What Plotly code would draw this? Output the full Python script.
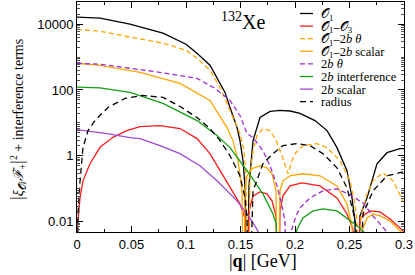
import plotly.graph_objects as go

Z = 1e-6  # exact zeros of the squared form factors (fall below the axis)

# ---- data ----
q_O1 = [0, 0.0211, 0.0486, 0.0789, 0.1000, 0.1101, 0.1220, 0.1284, 0.1358, 0.1404, 0.1468, 0.1495, 0.1523, 0.1541, 0.1555,
        0.1578, 0.1596, 0.1615, 0.1679, 0.1771, 0.1862, 0.1954, 0.2046, 0.2183, 0.2294, 0.2385, 0.2477, 0.2523, 0.2550, 0.2569,
        0.2596, 0.2661, 0.2752, 0.2844, 0.2963, 0.3000]
v_O1 = [16340, 15240, 10000, 5320, 2455, 1306, 566, 242, 84.5, 29.5, 7.24, 2.91, 0.714, 0.123, Z,
        0.123, 0.714, 2.91, 14.6, 22.5, 24.0, 23.0, 19.4, 11.8, 5.86, 1.78, 0.354, 0.0532, 0.0106, Z,
        0.015, 0.0532, 0.578, 1.25, 1.66, 1.66]

q_O1O3 = [0, 0.0003, 0.0028, 0.0055, 0.0119, 0.0211, 0.0330, 0.0456, 0.0578, 0.0697, 0.0761, 0.0945, 0.1101, 0.1220,
          0.1312, 0.1404, 0.1495, 0.1541, 0.1560,
          0.1578, 0.1615, 0.1679, 0.1743, 0.1789, 0.1826, 0.1849,
          0.1862, 0.1890, 0.1954, 0.2064, 0.2229, 0.2385, 0.2477, 0.2532, 0.2550,
          0.2596, 0.2688, 0.2780, 0.2872, 0.2963, 0.3000]
v_O1O3 = [Z, 0.0066, 0.0543, 0.175, 0.578, 1.82, 3.66, 5.86, 7.77, 8.33, 8.33, 6.75, 3.35, 1.17,
          0.354, 0.107, 0.0349, 0.0131, Z,
          0.0213, 0.0612, 0.081, 0.0705, 0.0431, 0.015, Z,
          0.0213, 0.0612, 0.123, 0.152, 0.123, 0.0532, 0.0173, 0.006, Z,
          0.0131, 0.0213, 0.0199, 0.0122, 0.0065, 0.0049]

q_O1_2b_theta = [0, 0.0211, 0.0486, 0.0789, 0.1000, 0.1101, 0.1220, 0.1312, 0.1431, 0.1495, 0.1532, 0.1550, 0.1569,
                 0.1587, 0.1615, 0.1651, 0.1706, 0.1771, 0.1826, 0.1881, 0.1936, 0.1972, 0.2000, 0.2073, 0.2202,
                 0.2294, 0.2413, 0.2505, 0.2550, 0.2569, 0.2583,
                 0.2606, 0.2661, 0.2716, 0.2807, 0.2899, 0.2991, 0.3000]
v_O1_2b_theta = [6890, 6120, 4020, 2640, 1611, 918, 396, 120, 14.6, 4.75, 1.44, 0.249, Z,
                 0.249, 1.44, 4.13, 6.75, 5.86, 2.91, 1.01, 0.287, 0.714, 1.17, 2.05, 2.36,
                 1.78, 0.714, 0.175, 0.0349, 0.0106, Z,
                 0.015, 0.0705, 0.175, 0.308, 0.175, 0.0431, 0.040]

q_O1_2b_scalar = [0, 0.0211, 0.0578, 0.0945, 0.1220, 0.1376, 0.1431, 0.1477, 0.1514, 0.1532,
                  0.1541, 0.1560, 0.1606, 0.1679, 0.1743, 0.1789, 0.1826, 0.1839,
                  0.1862, 0.1890, 0.1954, 0.2073, 0.2229, 0.2385, 0.2477, 0.2523, 0.2541,
                  0.2578, 0.2615, 0.2661, 0.2716, 0.2780, 0.2872, 0.2963, 0.3000]
v_O1_2b_scalar = [647, 562, 344, 159, 48.2, 7.24, 2.91, 0.714, 0.0869, Z,
                  0.0869, 0.249, 0.407, 0.502, 0.436, 0.287, 0.0869, Z,
                  0.0869, 0.175, 0.249, 0.287, 0.249, 0.123, 0.0349, 0.0074, Z,
                  0.002, 0.0052, 0.0131, 0.0173, 0.015, 0.0106, 0.0052, 0.004]

q_2b_theta = [0, 0.0211, 0.0486, 0.0761, 0.1101, 0.1266, 0.1404, 0.1495, 0.1560, 0.1615, 0.1706, 0.1771, 0.1835,
              0.1881, 0.1908, 0.1936,
              0.1972, 0.2009, 0.2046, 0.2138, 0.2257, 0.2385, 0.2505, 0.2624, 0.2716, 0.2780, 0.2844, 0.2862]
v_2b_theta = [647, 603, 456, 344, 226, 112, 48.2, 16.8, 4.75, 3.59, 1.44, 0.502, 0.123,
              0.0303, 0.0106, Z,
              0.006, 0.015, 0.0264, 0.0532, 0.0869, 0.1, 0.0657, 0.0374, 0.015, 0.0086, 0.0049, Z]

q_2b_interf = [0, 0.0211, 0.0486, 0.0789, 0.1101, 0.1284, 0.1404, 0.1560, 0.1706, 0.1798, 0.1826, 0.1900,
               0.2018, 0.2073, 0.2165, 0.2257, 0.2385, 0.2505, 0.2596, 0.2642, 0.2700]
v_2b_interf = [122, 116, 84.5, 39.0, 11.8, 4.13, 1.78, 0.354, 0.0705, 0.0173, 0.0092, Z,
               0.006, 0.0131, 0.0213, 0.0246, 0.0213, 0.0106, 0.0065, 0.0045, Z]

q_2b_scalar = [0, 0.0275, 0.0486, 0.0578, 0.0761, 0.0945, 0.1128, 0.1284, 0.1468, 0.1587, 0.1661, 0.1697]
v_2b_scalar = [6.29, 4.75, 3.6, 3.35, 2.05, 1.17, 0.502, 0.175, 0.0431, 0.0131, 0.0052, Z]

q_radius = [0, 0.0003, 0.0009, 0.0028, 0.0055, 0.0101, 0.0165, 0.0284, 0.0440, 0.0596, 0.0789, 0.0945, 0.1101,
            0.1220, 0.1312, 0.1404, 0.1495, 0.1541, 0.1560, 0.1569,
            0.1615, 0.1706, 0.1798, 0.1890, 0.2018, 0.2138, 0.2257, 0.2385, 0.2477, 0.2532, 0.2560, 0.2578,
            0.2624, 0.2716, 0.2844, 0.2963, 0.3000]
v_radius = [Z, 0.0066, 0.0173, 0.175, 1.78, 5.86, 11.8, 29.5, 55.5, 68.4, 59.5, 31.6, 14.6,
            6.75, 2.91, 1.01, 0.249, 0.0532, 0.0131, Z,
            0.0869, 0.578, 1.17, 2.05, 2.36, 2.05, 1.17, 0.436, 0.107, 0.0213, 0.0074, Z,
            0.0173, 0.0869, 0.249, 0.308, 0.33]

x_ticks = [0, 0.05, 0.1, 0.15, 0.2, 0.25, 0.3]
x_tick_labels = ["0", "0.05", "0.1", "0.15", "0.2", "0.25", "0.3"]
y_ticks = [0.01, 1, 100, 10000]
y_tick_labels = ["0.01", "1", "100", "10000"]

O = "𝒪"
names = [f"{O}<sub>1</sub>", f"{O}<sub>1</sub>–{O}<sub>3</sub>", f"{O}<sub>1</sub>–2<i>b</i> <i>θ</i>",
         f"{O}<sub>1</sub>–2<i>b</i> scalar", "2<i>b</i> <i>θ</i>", "2<i>b</i> interference",
         "2<i>b</i> scalar", "radius"]

series = [
    (q_O1, v_O1, "black", "solid"),
    (q_O1O3, v_O1O3, "#ff1a1a", "solid"),
    (q_O1_2b_theta, v_O1_2b_theta, "#ffa500", "5px,3px"),
    (q_O1_2b_scalar, v_O1_2b_scalar, "#ffa500", "solid"),
    (q_2b_theta, v_2b_theta, "#9a2fd6", "5px,3px"),
    (q_2b_interf, v_2b_interf, "#15a015", "solid"),
    (q_2b_scalar, v_2b_scalar, "#a048d8", "solid"),
    (q_radius, v_radius, "black", "6px,4px"),
]

fig = go.Figure()
for (qq, vv, col, dash), nm in zip(series, names):
    fig.add_trace(go.Scatter(x=qq, y=vv, mode="lines", name=nm, showlegend=False,
                             line=dict(color=col, width=1.3, dash=dash)))

# plot-area geometry (pixels) for the hand-built legend
W, H = 415, 275
L, R, T, B = 77, 11, 2, 43
pw, ph = W - L - R, H - T - B
def px(xp): return (xp - L) / pw
def py(yp): return (H - B - yp) / ph

SERIF = "Liberation Serif, DejaVu Serif, serif"
ROW0, ROWSTEP = 13.5, 12.6
shapes = []
for i, (qq, vv, col, dash) in enumerate(series):
    yrow = ROW0 + ROWSTEP * i
    shapes.append(dict(type="line", xref="paper", yref="paper", x0=px(300), x1=px(313),
                       y0=py(yrow), y1=py(yrow), line=dict(color=col, width=1.3, dash=dash)))

# legend labels as one multi-line text: base size sets the 12.6 px line pitch
legend_text = "<br>".join(f"<span style='font-size:12.5px'>{nm}</span>" for nm in names)
annotations = [dict(xref="paper", yref="paper", x=px(319), y=py(ROW0 + ROWSTEP * 3.5),
                    text=legend_text, showarrow=False, xanchor="left", yanchor="middle", align="left",
                    font=dict(family=SERIF, size=ROWSTEP / 1.3, color="black"))]

annotations.append(dict(xref="paper", yref="paper", x=px(243), y=py(21),
                        text="<sup>132</sup>Xe", showarrow=False, xanchor="center", yanchor="middle",
                        font=dict(family=SERIF, size=20, color="black")))
annotations.append(dict(xref="paper", yref="paper", x=px(263), y=py(261),
                        text="|<b>q</b>| [GeV]", showarrow=False, xanchor="center", yanchor="middle",
                        font=dict(family=SERIF, size=18, color="black")))
annotations.append(dict(xref="paper", yref="paper", x=px(17), y=py(120), textangle=-90,
                        text=f"<span style='font-size:19px'>|</span><i>ξ</i><sub>{O}<i>i</i></sub><i>ℱ</i><sub>+</sub>"
                             f"<span style='font-size:19px'>|</span><sup>2</sup> + interference terms",
                        showarrow=False, xanchor="center", yanchor="middle",
                        font=dict(family=SERIF, size=14, color="black")))

minor_y = [k * 10.0 ** d for d in range(-3, 5) for k in range(1, 10)
           if not (k == 1 and d in (-2, 0, 2, 4))]

fig.update_layout(
    width=W, height=H, margin=dict(l=L, r=R, t=T, b=B, autoexpand=False),
    paper_bgcolor="white", plot_bgcolor="white",
    shapes=shapes, annotations=annotations, showlegend=False,
    xaxis=dict(range=[0, 0.3], tickmode="array", tickvals=x_ticks, ticktext=x_tick_labels,
               ticks="inside", ticklen=6, tickcolor="black", showline=True, linecolor="black", linewidth=1,
               mirror="allticks", showgrid=False, zeroline=False, automargin=False,
               tickfont=dict(family="Liberation Sans, Arial, sans-serif", size=13, color="black"),
               minor=dict(tickvals=[0.025, 0.075, 0.125, 0.175, 0.225, 0.275], ticks="inside",
                          ticklen=3, tickcolor="black", showgrid=False)),
    yaxis=dict(type="log", range=[-2.31, 4.67], tickmode="array", tickvals=y_ticks, ticktext=y_tick_labels,
               ticks="inside", ticklen=6, tickcolor="black", showline=True, linecolor="black", linewidth=1,
               mirror="allticks", showgrid=False, zeroline=False, automargin=False,
               tickfont=dict(family="Liberation Sans, Arial, sans-serif", size=13, color="black"),
               minor=dict(tickvals=minor_y, ticks="inside", ticklen=3, tickcolor="#555", showgrid=False)),
)

fig.write_html("out.html", config={"displayModeBar": False},
               post_script="document.body.style.margin='0px';")
